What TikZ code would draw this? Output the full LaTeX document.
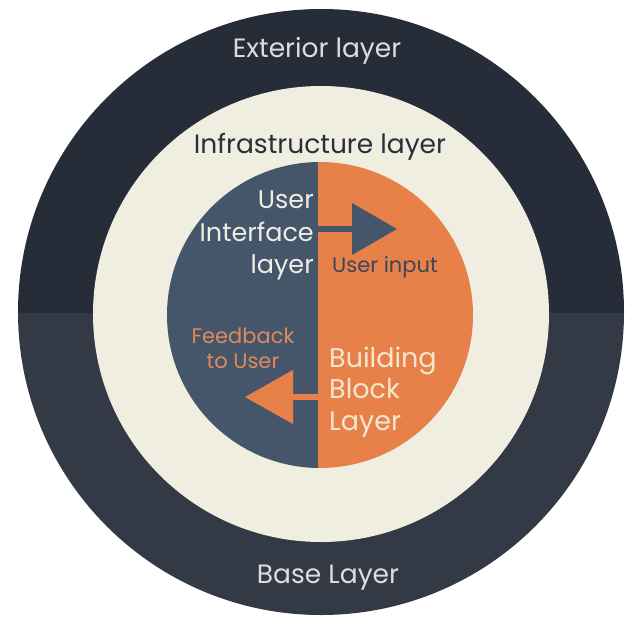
\documentclass[tikz,border=0pt]{standalone}
\usepackage{fontspec}
\setmainfont{Poppins}
\usetikzlibrary{calc}
\definecolor{outertop}{HTML}{262D39}
\definecolor{outerbot}{HTML}{333A46}
\definecolor{cream}{HTML}{EFEEE0}
\definecolor{uiblue}{HTML}{45566B}
\definecolor{bborange}{HTML}{E8804A}
\definecolor{lighttext}{HTML}{DCDDDE}
\definecolor{darktext}{HTML}{2A303A}
\definecolor{uitext}{HTML}{EEEEE4}
\definecolor{bbtext}{HTML}{F6E7CF}
\definecolor{inputtext}{HTML}{3A4759}
\definecolor{feedtext}{HTML}{DE8A5C}
\tikzset{
  ringlabel/.style={font=\fontsize{26.5}{30}\selectfont, inner sep=0pt},
  uilabel/.style={font=\fontsize{25.5}{32}\selectfont, inner sep=0pt},
  bblabel/.style={font=\fontsize{27}{32}\selectfont, inner sep=0pt},
  smalllabel/.style={font=\fontsize{21}{25}\selectfont, inner sep=0pt},
}
\begin{document}
\begin{tikzpicture}[x=1pt,y=-1pt]
\useasboundingbox (0,0) rectangle (629,616);
\fill[white] (0,0) rectangle (629,616);

% outer ring: darker upper half, lighter lower half
\begin{scope}
  \clip (321,312) circle[radius=303pt];
  \fill[outertop] (0,0) rectangle (629,313);
  \fill[outerbot] (0,313) rectangle (629,616);
\end{scope}

% infrastructure ring
\fill[cream] (321,314) circle[radius=228pt];

% core: user interface half and building block half
\begin{scope}
  \clip (320,315) circle[radius=153pt];
  \fill[uiblue] (160,150) rectangle (318,480);
  \fill[bborange] (318,150) rectangle (480,480);
\end{scope}

% user input arrow (left to right)
\coordinate (inS) at (318,229);
\coordinate (inB) at (352,229);
\coordinate (inT) at (397,229);
\fill[uiblue] ($(inS)+(0,-3)$) rectangle ($(inB)+(1,3)$);
\fill[uiblue] ($(inB)+(0,-26)$) -- (inT) -- ($(inB)+(0,26)$) -- cycle;

% feedback arrow (right to left)
\coordinate (fbS) at (318,397);
\coordinate (fbB) at (293,397);
\coordinate (fbT) at (245,397);
\fill[bborange] ($(fbS)+(0,-3)$) rectangle ($(fbB)+(-1,3)$);
\fill[bborange] ($(fbB)+(0,-27)$) -- (fbT) -- ($(fbB)+(0,27)$) -- cycle;

% ring labels
\node[ringlabel, text=lighttext, anchor=base] (ext) at (317,57) {Exterior layer};
\node[ringlabel, text=darktext, anchor=base] (infra) at (320,153) {Infrastructure layer};
\node[ringlabel, text=lighttext, anchor=base] (base) at (328,583) {Base Layer};

% user interface label
\node[uilabel, text=uitext, anchor=base east] (ui1) at (314,208) {User};
\node[uilabel, text=uitext, anchor=base east] (ui2) at (314,241) {Interface};
\node[uilabel, text=uitext, anchor=base east] (ui3) at (314,273) {layer};

% building block label
\node[bblabel, text=bbtext, anchor=base west] (bb1) at (329,367) {Building};
\node[bblabel, text=bbtext, anchor=base west] (bb2) at (329,398) {Block};
\node[bblabel, text=bbtext, anchor=base west] (bb3) at (329,430) {Layer};

% arrow labels
\node[smalllabel, text=inputtext, anchor=base west] (input) at (332,272) {User input};
\node[smalllabel, text=feedtext, anchor=base] (fb1) at (243,343) {Feedback};
\node[smalllabel, text=feedtext, anchor=base] (fb2) at (243,368) {to User};
\end{tikzpicture}
\end{document}
